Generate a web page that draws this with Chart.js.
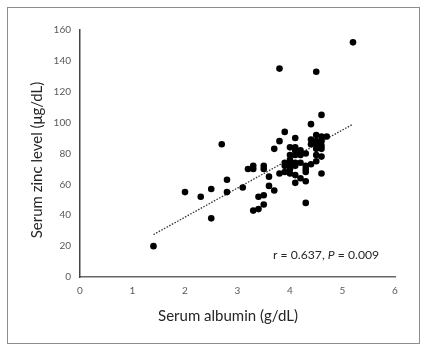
<!DOCTYPE html>
<html>
<head>
<meta charset="utf-8">
<script src="https://cdn.jsdelivr.net/npm/chart.js@4.4.1/dist/chart.umd.min.js"></script>
<style>
  html, body { margin: 0; padding: 0; background: #fff; }
</style>
</head>
<body>
<canvas id="myChart" width="427" height="353"></canvas>
<script>
// Data
var albumin = [1.4, 2.0, 2.3, 2.5, 2.5, 2.7, 2.8, 2.8, 3.1, 3.2,
               3.3, 3.3, 3.3, 3.4, 3.4, 3.5, 3.5, 3.5, 3.5, 3.6,
               3.6, 3.7, 3.7, 3.8, 3.8, 3.8, 3.9, 3.9, 3.9, 3.9,
               4.0, 4.0, 4.0, 4.0, 4.0, 4.0, 4.0, 4.1, 4.1, 4.1,
               4.1, 4.1, 4.1, 4.1, 4.1, 4.2, 4.2, 4.2, 4.2, 4.3,
               4.3, 4.3, 4.3, 4.3, 4.3, 4.4, 4.4, 4.4, 4.4, 4.5,
               4.5, 4.5, 4.5, 4.5, 4.5, 4.5, 4.6, 4.6, 4.6, 4.6,
               4.6, 4.6, 4.6, 4.7, 5.2];
var zinc = [20, 55, 52, 57, 38, 86, 63, 55, 58, 70,
            72, 70, 43, 44, 52, 53, 47, 72, 70, 65,
            59, 56, 83, 88, 135, 67, 94, 68, 74, 72,
            84, 79, 76, 74, 72, 70, 67, 90, 84, 82,
            79, 74, 72, 66, 61, 82, 79, 74, 64, 80,
            72, 70, 68, 62, 48, 99, 89, 86, 73, 133,
            92, 88, 86, 83, 79, 75, 105, 91, 88, 85,
            83, 78, 67, 91, 152];

// dotted trend line, end points
var trendX = [1.4, 5.2];
var trendY = [27.5, 99];

var xTitle = 'Serum albumin (g/dL)';
var yTitle = 'Serum zinc level (\u03bcg/dL)';
var statBefore = 'r = 0.637, ';
var statItalic = 'P';
var statAfter = ' = 0.009';

var fontName = 'Lato, "Liberation Sans", sans-serif';

function toPoints(xs, ys) {
    var pts = [];
    for (var i = 0; i < xs.length; i++) {
        pts.push({x: xs[i], y: ys[i]});
    }
    return pts;
}

// frame, axis titles and the r / P text
var extrasPlugin = {
    id: 'extras',
    beforeDraw: function(chart) {
        var ctx = chart.ctx;
        ctx.save();
        ctx.fillStyle = '#fff';
        ctx.fillRect(0, 0, chart.width, chart.height);
        ctx.strokeStyle = '#8c8c8c';
        ctx.lineWidth = 1;
        ctx.strokeRect(7.5, 7.5, 412, 336);
        ctx.restore();
    },
    afterDraw: function(chart) {
        var ctx = chart.ctx;
        ctx.save();
        ctx.fillStyle = '#262626';
        ctx.font = '15px ' + fontName;
        ctx.textAlign = 'center';
        ctx.textBaseline = 'middle';
        ctx.fillText(xTitle, 228, 316);

        ctx.translate(37, 160);
        ctx.rotate(-Math.PI / 2);
        ctx.fillText(yTitle, 0, 0);
        ctx.restore();

        ctx.save();
        ctx.fillStyle = '#262626';
        ctx.textBaseline = 'alphabetic';
        ctx.textAlign = 'left';
        var x = 273, y = 259;
        ctx.font = '12.2px ' + fontName;
        ctx.fillText(statBefore, x, y);
        x += ctx.measureText(statBefore).width;
        ctx.font = 'italic 12.2px ' + fontName;
        ctx.fillText(statItalic, x, y);
        x += ctx.measureText(statItalic).width;
        ctx.font = '12.2px ' + fontName;
        ctx.fillText(statAfter, x, y);
        ctx.restore();
    }
};

var ctx = document.getElementById('myChart').getContext('2d');
var myChart = new Chart(ctx, {
    type: 'scatter',
    data: {
        datasets: [{
            label: 'Patients',
            data: toPoints(albumin, zinc),
            backgroundColor: '#000',
            borderWidth: 0,
            pointRadius: 3.3,
            order: 1
        }, {
            label: 'Trend',
            type: 'line',
            data: toPoints(trendX, trendY),
            borderColor: '#333',
            borderWidth: 1.3,
            borderDash: [1.5, 1.5],
            pointRadius: 0,
            fill: false,
            order: 2
        }]
    },
    options: {
        responsive: false,
        animation: false,
        devicePixelRatio: 1,
        layout: { padding: { top: 30, right: 32, left: 0, bottom: 0 } },
        plugins: {
            legend: { display: false },
            tooltip: { enabled: false }
        },
        scales: {
            x: {
                type: 'linear',
                min: 0,
                max: 6,
                grid: { display: false, drawTicks: false },
                border: { display: true, color: '#666', width: 1.5 },
                ticks: {
                    stepSize: 1,
                    padding: 8,
                    color: '#595959',
                    font: { family: fontName, size: 10 }
                },
                afterFit: function(scale) { scale.height = 76; }
            },
            y: {
                min: 0,
                max: 160,
                grid: { display: false, drawTicks: false },
                border: { display: true, color: '#444', width: 1.5 },
                ticks: {
                    stepSize: 20,
                    padding: 9,
                    color: '#595959',
                    font: { family: fontName, size: 10 }
                },
                afterFit: function(scale) { scale.width = 80; }
            }
        }
    },
    plugins: [extrasPlugin]
});
</script>
</body>
</html>
